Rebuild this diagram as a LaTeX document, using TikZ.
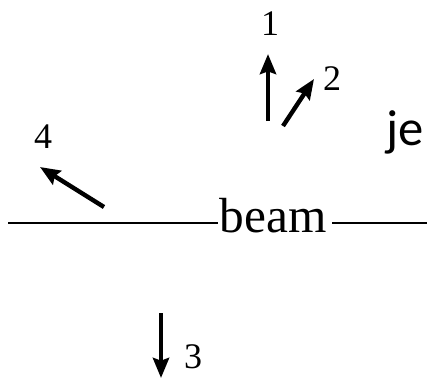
\documentclass[tikz,border=0pt]{standalone}
\usepackage{fontspec}
\setmainfont{Liberation Serif}
\newfontfamily\jetfont{Carlito}
\usetikzlibrary{arrows.meta}

\tikzset{every picture/.style={line width=0.75pt}}
\tikzset{
  trackarrow/.style={line width=3.3pt, -{Stealth[length=15pt,width=12pt,inset=2pt]}},
  beamline/.style={line width=2pt},
  numlabel/.style={inner sep=0.75pt, font=\fontsize{27}{30}\selectfont},
}

\begin{document}
\begin{tikzpicture}[x=0.75pt,y=0.75pt,yscale=-1,xscale=1]
\useasboundingbox (0,0) rectangle (427,379);

% Text Node
\node [inner sep=1pt, anchor=base, font=\fontsize{37}{40}\selectfont] (beam) at (273,232) {beam};
% Text Node
\node [inner sep=0pt, anchor=base west, font=\jetfont\fontsize{38}{40}\selectfont] (jet) at (386,145) {je};

%Straight Lines
\coordinate (beamL) at (8,223);
\coordinate (beamR) at (427,223);
\draw [beamline] (beamL) -- (beamL -| beam.west);
\draw [beamline] (beamR -| beam.east) ++(4,0) -- (beamR);

%Track arrows
\coordinate (t1) at (268,121);
\coordinate (h1) at (268,54);
\coordinate (t2) at (283,126);
\coordinate (h2) at (314,79);
\coordinate (t3) at (161,313);
\coordinate (h3) at (161,378);
\coordinate (t4) at (104,207);
\coordinate (h4) at (40,167);
\draw [trackarrow] (t1) -- (h1);
\draw [trackarrow] (t2) -- (h2);
\draw [trackarrow] (t3) -- (h3);
\draw [trackarrow] (t4) -- (h4);

% Text Node
\node [numlabel] (n1) at (270,24) {1};
% Text Node
\node [numlabel] (n2) at (332,79) {2};
% Text Node
\node [numlabel] (n3) at (193,357) {3};
% Text Node
\node [numlabel] (n4) at (43,137) {4};

\end{tikzpicture}
\end{document}
